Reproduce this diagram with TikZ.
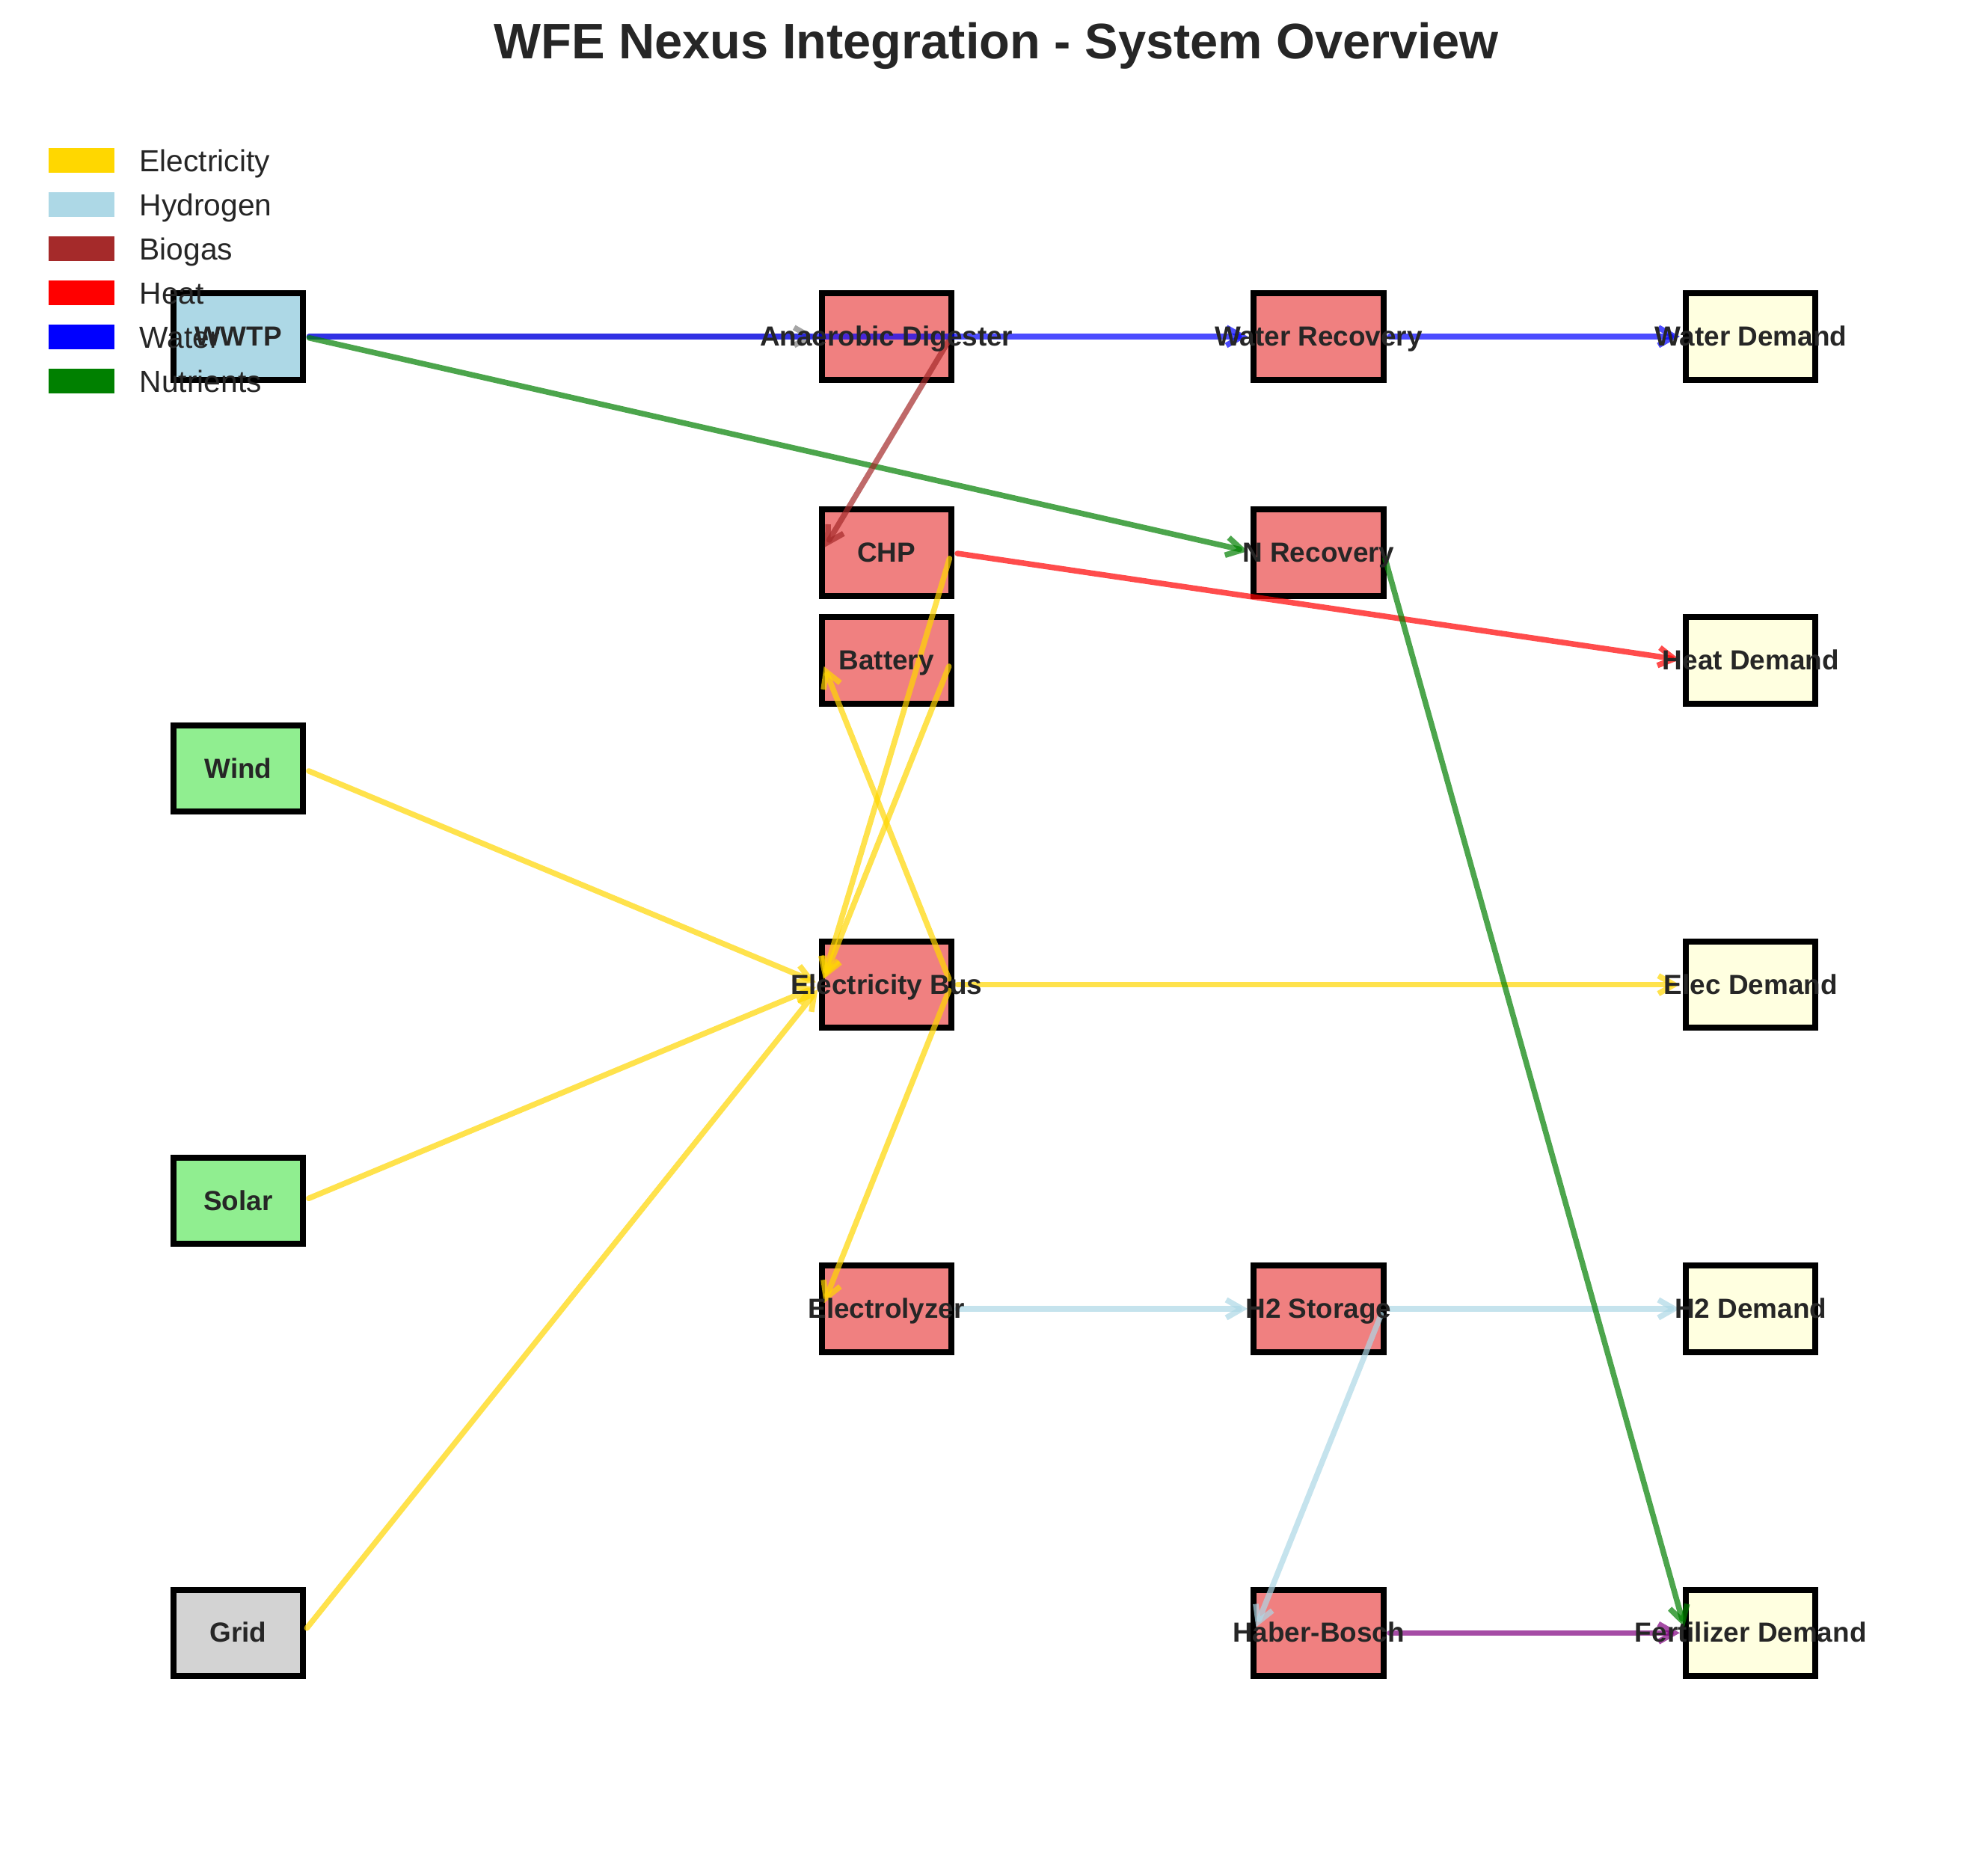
\documentclass[tikz,border=0pt]{standalone}
\usepackage{fontspec}
\setmainfont{Liberation Sans}
\usetikzlibrary{arrows.meta}
\definecolor{txt}{HTML}{262626}
\definecolor{cElec}{HTML}{FFD700}
\definecolor{cHtwo}{HTML}{ADD8E6}
\definecolor{cBio}{HTML}{A52A2A}
\definecolor{cHeat}{HTML}{FF0000}
\definecolor{cWater}{HTML}{0000FF}
\definecolor{cNut}{HTML}{008000}
\definecolor{cAmm}{HTML}{800080}
\definecolor{cSludge}{HTML}{808080}
\definecolor{fBlue}{HTML}{ADD8E6}
\definecolor{fCoral}{HTML}{F08080}
\definecolor{fYellow}{HTML}{FFFFE0}
\definecolor{fGreen}{HTML}{90EE90}
\definecolor{fGray}{HTML}{D3D3D3}
\tikzset{
  box/.style={rectangle, draw=black, line width=0.08cm, minimum width=1.733cm, minimum height=1.156cm, inner sep=0pt, outer sep=0pt},
  lbl/.style={font=\fontsize{10.5}{12}\selectfont\bfseries, text=txt, anchor=base, inner sep=0pt},
  flow/.style={line width=0.075cm, draw opacity=0.7, line cap=round, line join=round, shorten <=0.083cm, shorten >=0.083cm, -{Straight Barb[length=0.21cm, width=0.24cm]}},
  legpatch/.style={inner sep=0pt, minimum width=0.88cm, minimum height=0.33cm, draw=none},
  legtext/.style={font=\fontsize{11.6}{13}\selectfont, text=txt, anchor=base west, inner sep=0pt},
}
\begin{document}
\begin{tikzpicture}[x=2.889cm, y=2.889cm]
\useasboundingbox (-3.185cm,-3.187cm) rectangle (23.395cm,21.833cm);
\fill[white] (-3.185cm,-3.187cm) rectangle (23.395cm,21.833cm);

% title
\node[font=\fontsize{19}{22}\selectfont\bfseries, text=txt, anchor=base, inner sep=0pt] (title) at (10.135cm,21.043cm) {WFE Nexus Integration - System Overview};

% boxes
\node[box, fill=fBlue]   (wwtp)  at (0,6)   {};
\node[box, fill=fCoral]  (ad)    at (3,6)   {};
\node[box, fill=fCoral]  (wr)    at (5,6)   {};
\node[box, fill=fYellow] (wd)    at (7,6)   {};
\node[box, fill=fCoral]  (chp)   at (3,5)   {};
\node[box, fill=fCoral]  (nr)    at (5,5)   {};
\node[box, fill=fCoral]  (bat)   at (3,4.5) {};
\node[box, fill=fYellow] (hd)    at (7,4.5) {};
\node[box, fill=fGreen]  (wind)  at (0,4)   {};
\node[box, fill=fCoral]  (bus)   at (3,3)   {};
\node[box, fill=fYellow] (ed)    at (7,3)   {};
\node[box, fill=fGreen]  (solar) at (0,2)   {};
\node[box, fill=fCoral]  (ely)   at (3,1.5) {};
\node[box, fill=fCoral]  (hts)   at (5,1.5) {};
\node[box, fill=fYellow] (htd)   at (7,1.5) {};
\node[box, fill=fGray]   (grid)  at (0,0)   {};
\node[box, fill=fCoral]  (hb)    at (5,0)   {};
\node[box, fill=fYellow] (fd)    at (7,0)   {};

% flows
\draw[flow, cSludge] (wwtp.east) -- (ad.west);
\draw[flow, cWater]  (wwtp.east) -- (wr.west);
\draw[flow, cWater]  (wr.east) -- (wd.west);
\draw[flow, cNut]    (wwtp.east) -- (nr.west);
\draw[flow, cBio]    (ad.east) -- (chp.west);
\draw[flow, cElec]   (chp.east) -- (bus.west);
\draw[flow, cHeat]   (chp.east) -- (hd.west);
\draw[flow, cElec]   (bat.east) -- (bus.west);
\draw[flow, cElec]   (bus.east) -- (bat.west);
\draw[flow, cElec]   (wind.east) -- (bus.west);
\draw[flow, cElec]   (solar.east) -- (bus.west);
\draw[flow, cElec]   (grid.east) -- (bus.west);
\draw[flow, cElec]   (bus.east) -- (ed.west);
\draw[flow, cElec]   (bus.east) -- (ely.west);
\draw[flow, cHtwo]   (ely.east) -- (hts.west);
\draw[flow, cHtwo]   (hts.east) -- (htd.west);
\draw[flow, cHtwo]   (hts.east) -- (hb.west);
\draw[flow, cNut]    (nr.east) -- (fd.west);
\draw[flow, cAmm]    (hb.east) -- (fd.west);

% labels
\foreach \n/\t in {wwtp/WWTP, ad/Anaerobic Digester, wr/Water Recovery, wd/Water Demand, chp/CHP, nr/N Recovery, bat/Battery, hd/Heat Demand, wind/Wind, bus/Electricity Bus, ed/Elec Demand, solar/Solar, ely/Electrolyzer, hts/H2 Storage, htd/H2 Demand, grid/Grid, hb/Haber-Bosch, fd/Fertilizer Demand}
  \node[lbl] (t-\n) at ([yshift=-3.6pt]\n.center) {\t};

% legend
\foreach \i/\c/\t in {0/cElec/Electricity, 1/cHtwo/Hydrogen, 2/cBio/Biogas, 3/cHeat/Heat, 4/cWater/Water, 5/cNut/Nutrients} {
  \node[legpatch, fill=\c] (lp\i) at (-2.095cm, 19.683cm-\i*0.589cm) {};
  \node[legtext] (lt\i) at (-1.325cm, 19.537cm-\i*0.589cm) {\t};
}
\end{tikzpicture}
\end{document}
